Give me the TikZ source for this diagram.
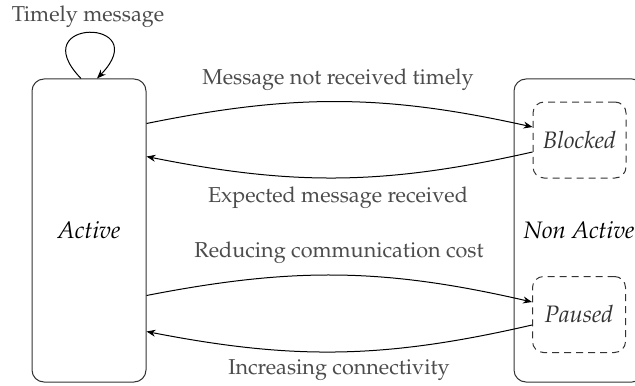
\documentclass[tikz,border=0pt]{standalone}
\usepackage[T1]{fontenc}
\usepackage{mathpazo}
\usetikzlibrary{arrows.meta,calc}
\begin{document}
\begin{tikzpicture}[x=0.5pt,y=-0.5pt,
  statebox/.style={draw=black!80,line width=0.5pt,rounded corners=6pt,inner sep=0pt,
    minimum height=151.5pt,font=\fontsize{11.9}{14}\selectfont\itshape},
  substate/.style={draw=black!80,dash pattern=on 3.5pt off 2.5pt,line width=0.5pt,rounded corners=5.5pt,inner sep=0pt,
    minimum width=46.5pt,minimum height=38pt,font=\fontsize{11.9}{14}\selectfont\itshape,text=black!80},
  trans/.style={draw=black,line width=0.5pt,-{Stealth[length=4.5pt,width=3.5pt]}},
  lbl/.style={text=black!70,inner sep=0pt,font=\fontsize{10.8}{13}\selectfont}]
\useasboundingbox (0,0) rectangle (635,385);
\clip (0,0) rectangle (635,385);

% main states
\node[statebox,minimum width=57pt] (act) at (89,230.5) {Active};
\node[statebox,minimum width=65pt] (non) at (579,230.5) {Non Active};

% sub-states of the non-active state
\node[substate] (blk) at (579.5,140) {Blocked};
\node[substate] (pau) at (579,314.5) {Paused};

% self loop on the active state
\draw[trans] ($(act.north)+(-8,0)$) .. controls +(-59,-61) and +(59,-61) .. ($(act.north)+(8,0)$);
\node[lbl] (lloop) at (88,17) {Timely message};

% transitions between active and blocked
\draw[trans] ($(act.north east)+(0,45)$) to[bend left=12] ($(blk.west)+(0,-13)$);
\draw[trans] ($(blk.west)+(0,12)$) to[bend left=12] ($(act.north east)+(0,78)$);
\node[lbl] (l1) at (338,80) {Message not received timely};
\node[lbl] (l2) at (338,198) {Expected message received};

% transitions between active and paused
\draw[trans] ($(act.north east)+(0,217)$) to[bend left=12] ($(pau.west)+(0,-12.5)$);
\draw[trans] ($(pau.west)+(0,10.5)$) to[bend left=12] ($(act.north east)+(0,253)$);
\node[lbl] (l3) at (339,253) {Reducing communication cost};
\node[lbl] (l4) at (339,370) {Increasing connectivity};
\end{tikzpicture}
\end{document}
